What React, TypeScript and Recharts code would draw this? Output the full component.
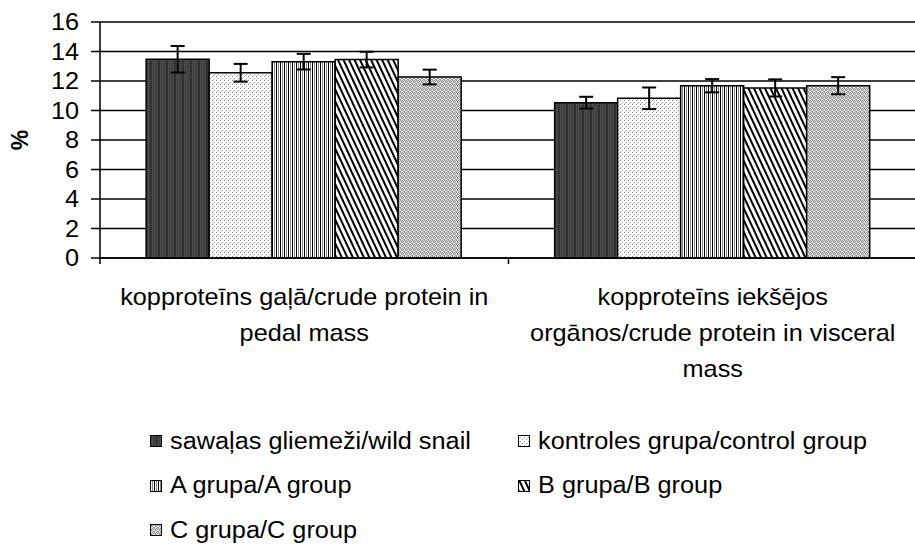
import React from "react";
import { BarChart, Bar, XAxis, YAxis, CartesianGrid, ErrorBar, Legend } from "recharts";

const categoryLines: string[][] = [
  ["kopproteīns gaļā/crude protein in", "pedal mass"],
  ["kopproteīns iekšējos", "orgānos/crude protein in visceral", "mass"],
];
const wild = [13.47, 10.53];
const wildErr = [0.9, 0.4];
const control = [12.56, 10.83];
const controlErr = [0.6, 0.73];
const groupA = [13.31, 11.68];
const groupAErr = [0.53, 0.45];
const groupB = [13.45, 11.53];
const groupBErr = [0.53, 0.58];
const groupC = [12.27, 11.68];
const groupCErr = [0.5, 0.58];
const yTicks = [0, 2, 4, 6, 8, 10, 12, 14, 16];
const seriesNames = [
  "sawaļas gliemeži/wild snail",
  "kontroles grupa/control group",
  "A grupa/A group",
  "B grupa/B group",
  "C grupa/C group",
];
const seriesKeys = ["wild", "control", "a", "b", "c"];
const patternIds = ["pWild", "pControl", "pA", "pB", "pC"];

const data = categoryLines.map((lines, i) => ({
  name: lines.join(" "),
  wild: wild[i],
  wildErr: wildErr[i],
  control: control[i],
  controlErr: controlErr[i],
  a: groupA[i],
  aErr: groupAErr[i],
  b: groupB[i],
  bErr: groupBErr[i],
  c: groupC[i],
  cErr: groupCErr[i],
}));

const FONT = "'Liberation Sans', Arial, sans-serif";
const FS = 23;
const SX = 1.1;

const XTick = (props: any) => {
  const { x, y, payload, index } = props;
  const i = payload.index ?? index ?? 0;
  const lines = categoryLines[i] || [payload.value];
  const half = payload.offset || 0;
  return (
    <g>
      {i === 0 && half > 0 && (
        <line x1={x - half} x2={x - half} y1={y - 8} y2={y - 2} stroke="#000" strokeWidth={1.5} />
      )}
      {half > 0 && (
        <line x1={x + half} x2={x + half} y1={y - 8} y2={y - 2} stroke="#000" strokeWidth={1.5} />
      )}
      {lines.map((ln, k) => (
        <text
          key={k}
          x={0}
          y={0}
          transform={`translate(${x},${y + 39 + k * 36}) scale(${SX},1)`}
          textAnchor="middle"
          fontFamily={FONT}
          fontSize={FS}
          fill="#000"
        >
          {ln}
        </text>
      ))}
    </g>
  );
};

const YTick = (props: any) => {
  const { x, y, payload } = props;
  return (
    <text
      x={0}
      y={0}
      transform={`translate(${x},${y}) scale(${SX},1)`}
      textAnchor="end"
      dominantBaseline="central"
      fontFamily={FONT}
      fontSize={FS}
      fill="#000"
    >
      {payload.value}
    </text>
  );
};

const LegendContent = () => (
  <div
    style={{
      display: "grid",
      gridTemplateColumns: "368px 368px",
      gridAutoRows: "44.5px",
      fontFamily: FONT,
      fontSize: FS,
      color: "#000",
    }}
  >
    {seriesNames.map((n, i) => (
      <div key={n} style={{ display: "flex", alignItems: "center", whiteSpace: "nowrap" }}>
        <svg width={12} height={12} style={{ marginRight: 8, flex: "none" }}>
          <rect x={0.5} y={0.5} width={11} height={11} fill={`url(#${patternIds[i]})`} stroke="#000" strokeWidth={1} />
        </svg>
        <span style={{ display: "inline-block", transform: `scaleX(${SX})`, transformOrigin: "left center" }}>{n}</span>
      </div>
    ))}
  </div>
);

export default function App() {
  return (
    <div style={{ position: "absolute", left: 0, top: 0, width: 915, height: 548, overflow: "hidden", background: "#fff" }}>
      <BarChart
        width={920}
        height={548}
        data={data}
        margin={{ top: 22, right: 3, left: 0, bottom: 0 }}
        barCategoryGap="11.3%"
        barGap={0}
      >
        <defs>
          <pattern id="pWild" patternUnits="userSpaceOnUse" width={8} height={2}>
            <rect width={8} height={2} fill="#3e3e3e" />
            <rect x={0} y={0} width={1} height={1} fill="#606060" />
            <rect x={2} y={1} width={1} height={1} fill="#606060" />
            <rect x={4} y={0} width={1} height={1} fill="#555" />
            <rect x={6} y={1} width={2} height={1} fill="#2a2a2a" />
          </pattern>
          <pattern id="pControl" patternUnits="userSpaceOnUse" width={4} height={4}>
            <rect width={4} height={4} fill="#fff" />
            <rect x={0} y={0} width={1} height={1} fill="#888" />
            <rect x={2} y={2} width={1} height={1} fill="#aaa" />
            <rect x={1} y={3} width={1} height={1} fill="#ccc" />
          </pattern>
          <pattern id="pA" patternUnits="userSpaceOnUse" width={4} height={4}>
            <rect width={4} height={4} fill="#fff" />
            <rect x={0} y={0} width={1} height={4} fill="#000" />
            <rect x={2} y={0} width={1} height={4} fill="#888" />
          </pattern>
          <pattern id="pB" patternUnits="userSpaceOnUse" width={5} height={10} patternTransform="rotate(-25)">
            <rect width={5} height={10} fill="#fff" />
            <rect x={0} y={0} width={2} height={10} fill="#000" />
          </pattern>
          <pattern id="pC" patternUnits="userSpaceOnUse" width={4} height={4}>
            <rect width={4} height={4} fill="#e8e8e8" />
            <rect x={0} y={0} width={1} height={1} fill="#888" />
            <rect x={1} y={1} width={1} height={1} fill="#888" />
            <rect x={2} y={0} width={1} height={1} fill="#888" />
            <rect x={3} y={1} width={1} height={1} fill="#888" />
            <rect x={1} y={2} width={2} height={1} fill="#999" />
            <rect x={0} y={3} width={1} height={1} fill="#999" />
            <rect x={3} y={3} width={1} height={1} fill="#999" />
          </pattern>
        </defs>
        <CartesianGrid vertical={false} stroke="#000" strokeWidth={1.5} />
        <XAxis
          dataKey="name"
          height={290}
          tickLine={false}
          axisLine={{ stroke: "#000", strokeWidth: 1.5 }}
          tick={<XTick />}
          interval={0}
        />
        <YAxis
          domain={[0, 16]}
          ticks={yTicks}
          width={100}
          tickSize={9}
          tickMargin={12}
          tickLine={{ stroke: "#000", strokeWidth: 1.5 }}
          axisLine={{ stroke: "#000", strokeWidth: 1.5 }}
          tick={<YTick />}
          interval={0}
          label={{
            value: "%",
            angle: -90,
            position: "insideLeft",
            offset: 20,
            style: { fontFamily: FONT, fontSize: 23, fontWeight: "bold", fill: "#000", textAnchor: "middle" },
          }}
        />
        <Legend
          layout="vertical"
          align="center"
          verticalAlign="middle"
          content={<LegendContent />}
          wrapperStyle={{ top: 419, left: 150, width: 740, height: 134, bottom: "auto" }}
        />
        {seriesKeys.map((k, i) => (
          <Bar
            key={k}
            dataKey={k}
            name={seriesNames[i]}
            fill={`url(#${patternIds[i]})`}
            stroke="#000"
            strokeWidth={1.5}
            isAnimationActive={false}
          >
            <ErrorBar dataKey={`${k}Err`} width={7} stroke="#000" strokeWidth={2} direction="y" />
          </Bar>
        ))}
      </BarChart>
    </div>
  );
}
